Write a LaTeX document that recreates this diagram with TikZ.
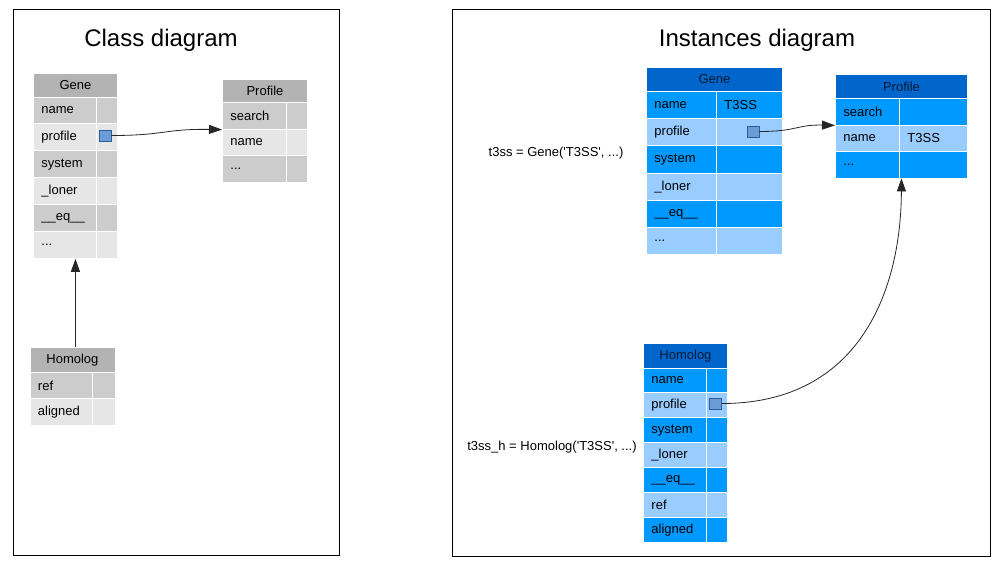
\documentclass[tikz,border=0pt]{standalone}
\usepackage{fontspec}
\setmainfont{Liberation Sans}
\definecolor{clshead}{HTML}{B3B3B3}
\definecolor{clsdark}{HTML}{CCCCCC}
\definecolor{clslight}{HTML}{E6E6E6}
\definecolor{insthead}{HTML}{0066CC}
\definecolor{instdark}{HTML}{0099FF}
\definecolor{instlight}{HTML}{99CCFF}
\definecolor{insttext}{HTML}{001A33}
\definecolor{portfill}{HTML}{6D9BD6}
\definecolor{portline}{HTML}{2E5C9E}
\usetikzlibrary{arrows.meta}
\newcommand{\cellfont}{\fontsize{13}{15}\selectfont}
\newcommand{\dts}{...}

\begin{document}
\begin{tikzpicture}[x=1pt,y=-1pt,
  cell/.style={draw=white,line width=0.9pt,anchor=north west,inner xsep=8pt,inner ysep=0pt,
    font=\cellfont,align=left},
  chead/.style={cell,fill=clshead,align=center,inner xsep=0pt},
  cdark/.style={cell,fill=clsdark},
  clight/.style={cell,fill=clslight},
  ihead/.style={cell,fill=insthead,text=insttext,align=center,inner xsep=0pt},
  idark/.style={cell,fill=instdark},
  ilight/.style={cell,fill=instlight},
  port/.style={draw=portline,fill=portfill,line width=0.8pt,minimum width=12pt,minimum height=11pt,inner sep=0pt},
  frame/.style={draw=black,line width=0.8pt},
  title/.style={font=\fontsize{24}{27}\selectfont},
  lbl/.style={font=\cellfont},
  arr/.style={-{Triangle[length=13pt,width=9pt]},line width=0.8pt,black!85}]
  \useasboundingbox (0,0) rectangle (995,574);

  % class diagram
  \draw[frame] (13.5,9.5) rectangle (339.5,555.5);
  \node[title] (ctitle) at (161,40) {Class diagram};

  \node[chead,minimum width=84pt,minimum height=24pt] (cgene) at (33,72.5) {Gene};
  \foreach \f/\sty [count=\i] in {name/cdark,profile/clight,system/cdark,\_loner/clight,\_\_eq\_\_/cdark,\dts/clight}{
    \node[\sty,text width=47pt,minimum height=26.9pt] (cgene-\i) at (33,{96.5+(\i-1)*26.9}) {\f};
    \node[\sty,text width=5pt,minimum height=26.9pt] (cgene-v\i) at (96,{96.5+(\i-1)*26.9}) {};
  }
  \node[port] (cgene-p) at (105,135.5) {};

  \node[chead,minimum width=85pt,minimum height=23pt] (cprof) at (222,79) {Profile};
  \foreach \f/\sty [count=\i] in {search/cdark,name/clight,\dts/cdark}{
    \node[\sty,text width=48pt,minimum height=26.7pt] (cprof-\i) at (222,{102+(\i-1)*26.7}) {\f};
    \node[\sty,text width=5pt,minimum height=26.7pt] (cprof-v\i) at (286,{102+(\i-1)*26.7}) {};
  }

  \node[chead,minimum width=85pt,minimum height=25pt] (chom) at (29.5,347) {Homolog};
  \foreach \f/\sty [count=\i] in {ref/cdark,aligned/clight}{
    \node[\sty,text width=46.5pt,minimum height=26.3pt] (chom-\i) at (29.5,{372+(\i-1)*26.3}) {\f};
    \node[\sty,text width=6.5pt,minimum height=26.3pt] (chom-v\i) at (92,{372+(\i-1)*26.3}) {};
  }

  \draw[arr] (cgene-p.east) .. controls (165,135.5) and (165,128.7) .. (cprof-1.south west);
  \draw[arr] (chom.north -| cgene.south) -- (cgene.south |- cgene-6.south);

  % instances diagram
  \draw[frame] (452.5,9.5) rectangle (990.5,556.5);
  \node[title] (ititle) at (757,40) {Instances diagram};

  \node[ihead,minimum width=136pt,minimum height=24.3pt] (igene) at (646,66.7) {Gene};
  \foreach \f/\v/\sty [count=\i] in {name/T3SS/idark,profile//ilight,system//idark,\_loner//ilight,\_\_eq\_\_//idark,\dts//ilight}{
    \node[\sty,text width=54pt,minimum height=27.2pt] (igene-\i) at (646,{91+(\i-1)*27.2}) {\f};
    \node[\sty,text width=50pt,minimum height=27.2pt] (igene-v\i) at (716,{91+(\i-1)*27.2}) {\v};
  }
  \node[port] (igene-p) at (753,131.5) {};

  \node[ihead,minimum width=132pt,minimum height=24pt] (iprof) at (835,74) {Profile};
  \foreach \f/\v/\sty [count=\i] in {search//idark,name/T3SS/ilight,\dts//idark}{
    \node[\sty,text width=48pt,minimum height=26.5pt] (iprof-\i) at (835,{98+(\i-1)*26.5}) {\f};
    \node[\sty,text width=52pt,minimum height=26.5pt] (iprof-v\i) at (899,{98+(\i-1)*26.5}) {\v};
  }
  \coordinate (iprof-bot) at (iprof.south |- iprof-3.south);

  \node[ihead,minimum width=84pt,minimum height=24.5pt] (ihom) at (643,343) {Homolog};
  \foreach \f/\sty [count=\i] in {name/idark,profile/ilight,system/idark,\_loner/ilight,\_\_eq\_\_/idark,ref/ilight,aligned/idark}{
    \node[\sty,text width=47pt,minimum height=24.9pt] (ihom-\i) at (643,{367.5+(\i-1)*24.9}) {\f};
    \node[\sty,text width=5pt,minimum height=24.9pt] (ihom-v\i) at (706,{367.5+(\i-1)*24.9}) {};
  }
  \node[port] (ihom-p) at (715.5,403.5) {};

  \node[lbl] (t3ss) at (556,153) {t3ss = Gene(\textquotesingle T3SS\textquotesingle, ...)};
  \node[lbl] (t3ssh) at (552,447) {t3ss\_h = Homolog(\textquotesingle T3SS\textquotesingle, ...)};

  \draw[arr] (igene-p.east) .. controls (797,131.5) and (797,124.5) .. (iprof-1.south west);
  \draw[arr] (ihom-p.east) .. controls (860,403.5) and (901,290) .. (iprof-bot);
\end{tikzpicture}
\end{document}
